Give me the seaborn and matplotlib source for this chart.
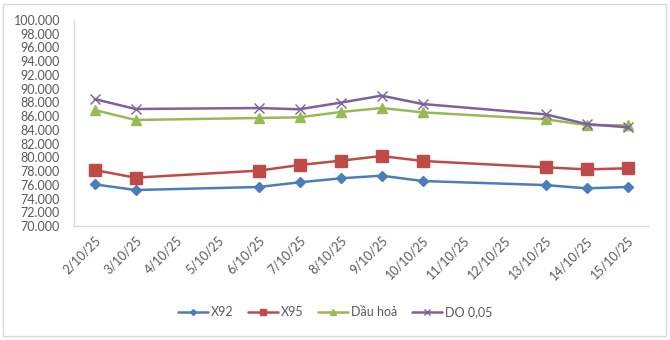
import matplotlib
matplotlib.use("Agg")
import matplotlib.pyplot as plt
import seaborn as sns
import pandas as pd
import numpy as np
from matplotlib.patches import Rectangle

categories = ["2/10/25", "3/10/25", "4/10/25", "5/10/25", "6/10/25", "7/10/25", "8/10/25",
              "9/10/25", "10/10/25", "11/10/25", "12/10/25", "13/10/25", "14/10/25", "15/10/25"]
data_dates = ["2/10/25", "3/10/25", "6/10/25", "7/10/25", "8/10/25", "9/10/25",
              "10/10/25", "13/10/25", "14/10/25", "15/10/25"]
x92 = [76.07, 75.24, 75.68, 76.36, 76.94, 77.33, 76.55, 75.96, 75.49, 75.68]
x95 = [78.15, 77.04, 78.06, 78.88, 79.51, 80.19, 79.47, 78.54, 78.25, 78.40]
dau_hoa = [86.89, 85.44, 85.73, 85.83, 86.60, 87.18, 86.55, 85.54, 84.70, 84.65]
do005 = [88.49, 87.04, 87.18, 87.00, 87.96, 88.98, 87.77, 86.26, 84.85, 84.37]
series_names = ["X92", "X95", "Dầu hoả", "DO 0,05"]
yticks = [70, 72, 74, 76, 78, 80, 82, 84, 86, 88, 90, 92, 94, 96, 98, 100]

colors = ["#4A7EBB", "#BE4B48", "#98B954", "#7D60A0"]
markers = ["D", "s", "^", "x"]
msizes = [5, 8, 7, 7]

rows = []
for name, vals in zip(series_names, [x92, x95, dau_hoa, do005]):
    for d, v in zip(data_dates, vals):
        rows.append({"date": d, "pos": categories.index(d), "value": v, "series": name})
df = pd.DataFrame(rows)

sns.set_theme(style="white")
plt.rcParams["font.family"] = ["Lato", "DejaVu Sans"]

fig = plt.figure(figsize=(6.7, 3.4), dpi=100)
ax = fig.add_axes([74/670, 1-226/340, (648-74)/670, (226-20)/340])

for name, c, m, ms in zip(series_names, colors, markers, msizes):
    sub = df[df["series"] == name]
    sns.lineplot(data=sub, x="pos", y="value", ax=ax, color=c, linewidth=1.8,
                 marker=m, markersize=ms, markeredgecolor=c, markeredgewidth=1,
                 label=name)

ax.set_xlim(-0.5, len(categories) - 0.5)
ax.set_ylim(70, 100)
ax.set_yticks(yticks)
ax.set_yticklabels([f"{v}.000" for v in yticks], fontsize=9, color="#595959")
ax.set_xticks(range(len(categories)))
ax.set_xticklabels(categories, rotation=45, ha="right", rotation_mode="anchor",
                   fontsize=9, color="#595959")
ax.tick_params(axis="y", length=0, pad=10)
ax.tick_params(axis="x", length=0, pad=6)
ax.set_xlabel("")
ax.set_ylabel("")
for s in ["top", "right"]:
    ax.spines[s].set_visible(False)
ax.spines["left"].set_color("#D9D9D9")
ax.spines["bottom"].set_color("#D9D9D9")
ax.spines["left"].set_linewidth(1)
ax.spines["bottom"].set_linewidth(1)
ax.grid(False)

handles, labels = ax.get_legend_handles_labels()
ax.get_legend().remove()
leg = fig.legend(handles, labels, loc="center", bbox_to_anchor=(0.5, 1-312/340), ncol=4,
                 frameon=False, fontsize=9, handlelength=2.4, columnspacing=1.2,
                 handletextpad=0.2, markerscale=0.6)
for t in leg.get_texts():
    t.set_color("#595959")

fig.patches.append(Rectangle((3/670, 4/340), 663/670, 332/340, transform=fig.transFigure,
                             fill=False, edgecolor="#D9D9D9", linewidth=1))

fig.savefig("out.png", dpi=100, facecolor="white")
